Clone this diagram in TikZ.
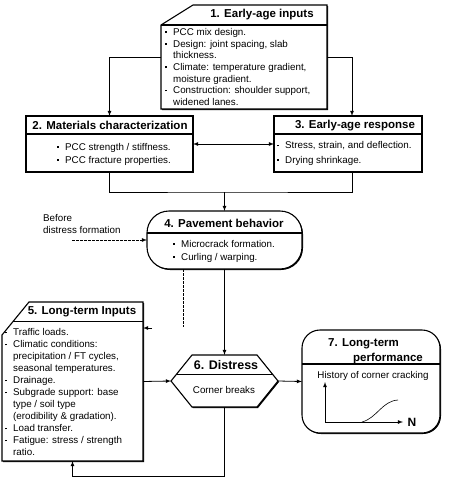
\documentclass[tikz,border=0pt]{standalone}
\usepackage{fontspec}
\setmainfont{Liberation Sans}
\usetikzlibrary{arrows,calc,positioning,shadows}

\newcommand{\bul}{\makebox[8pt][l]{\rule[2.4pt]{1.7pt}{1.7pt}}}
\newcommand{\ind}{\hspace*{8pt}}

\tikzset{
  area/.style={inner sep=0pt,outer sep=0pt},
  outline/.style={draw,line width=1.1pt,fill=white,
    drop shadow={shadow xshift=1pt,shadow yshift=-1pt,fill=black,opacity=1}},
  sep/.style={line width=1.1pt},
  title/.style={font=\fontsize{11.5}{13}\selectfont\bfseries,inner sep=0pt},
  body/.style={font=\fontsize{9.8}{11.7}\selectfont,inner sep=0pt,align=left,anchor=north west},
  link/.style={-latex,line width=.8pt},
  dashline/.style={line width=.8pt,dash pattern=on 2.5pt off 1.5pt},
}

\begin{document}
\begin{tikzpicture}[x=1pt,y=-1pt]
  \useasboundingbox (0,0) rectangle (448,479);

  % box areas
  \node[area,minimum width=166pt,minimum height=104pt] (inp) at (244,57) {};
  \node[area,minimum width=167pt,minimum height=56pt] (mat) at (109.5,144) {};
  \node[area,minimum width=148pt,minimum height=56pt] (ear) at (348,144) {};
  \node[area,minimum width=155pt,minimum height=58pt] (pav) at (224.5,240) {};
  \node[area,minimum width=141pt,minimum height=159pt] (lti) at (72.5,381.5) {};
  \node[area,minimum width=107pt,minimum height=52pt] (dis) at (224.5,381) {};
  \node[area,minimum width=138pt,minimum height=103pt] (ltp) at (371,381.5) {};

  % 1. early-age inputs
  \coordinate (inp-c1) at ($(inp.north west)+(0,20)$);
  \draw[outline] (inp.south west) -- (inp-c1) -- ($(inp.north west)+(32,0)$)
    -- (inp.north east) -- (inp.south east) -- cycle;
  \draw[sep] (inp-c1) -- (inp-c1 -| inp.east);

  % 2. and 3.
  \draw[outline] (mat.south west) rectangle (mat.north east);
  \draw[sep] ($(mat.north west)+(0,18)$) -- ($(mat.north east)+(0,18)$);
  \draw[outline] (ear.south west) rectangle (ear.north east);
  \draw[sep] ($(ear.north west)+(0,18)$) -- ($(ear.north east)+(0,18)$);

  % 4. pavement behavior
  \draw[outline,rounded corners=22pt] (pav.south west) rectangle (pav.north east);
  \draw[sep] ($(pav.north west)+(0,22)$) -- ($(pav.north east)+(0,22)$);

  % 5. long-term inputs
  \coordinate (lti-c1) at ($(lti.north west)+(0,33)$);
  \coordinate (lti-c2) at ($(lti.north west)+(27,0)$);
  \draw[outline] (lti.south west) -- (lti-c1) -- (lti-c2)
    -- (lti.north east) -- (lti.south east) -- cycle;
  \coordinate (lti-s) at ($(lti-c1)!.4!(lti-c2)$);
  \draw[sep] (lti-s) -- (lti-s -| lti.east);

  % 6. distress
  \coordinate (dis-nw) at ($(dis.north west)+(21,0)$);
  \coordinate (dis-ne) at ($(dis.north east)+(-21,0)$);
  \draw[outline] (dis.west) -- (dis-nw) -- (dis-ne) -- (dis.east)
    -- ($(dis.south east)+(-21,0)$) -- ($(dis.south west)+(21,0)$) -- cycle;
  \draw[sep] ($(dis.west)!.26!(dis-nw)$) -- ($(dis.east)!.26!(dis-ne)$);

  % 7. long-term performance
  \draw[outline,rounded corners=18pt] (ltp.south west) rectangle (ltp.north east);
  \draw[sep] ($(ltp.north west)+(0,34)$) -- ($(ltp.north east)+(0,34)$);

  % titles
  \node[title] (inp-t) at (262,15) {1. Early-age inputs};
  \node[title] (mat-t) at (110,125.5) {2. Materials characterization};
  \node[title] (ear-t) at (355,125.5) {3. Early-age response};
  \node[title] (pav-t) at (224,223) {4. Pavement behavior};
  \node[title] (lti-t) at (82,312) {5. Long-term Inputs};
  \node[title,font=\fontsize{12.5}{14}\selectfont\bfseries] (dis-t) at (226,365) {6. Distress};
  \node[title,align=left,anchor=north west,font=\fontsize{11.5}{15}\selectfont\bfseries]
    (ltp-t) at (328,338.5) {7. Long-term\\\hspace*{25pt}performance};

  % texts
  \node[body] (inp-b) at (165,28) {\bul PCC mix design.\\
    \bul Design: joint spacing, slab\\ \ind thickness.\\
    \bul Climate: temperature gradient,\\ \ind moisture gradient.\\
    \bul Construction: shoulder support,\\ \ind widened lanes.};
  \node[body,font=\fontsize{9.8}{13}\selectfont] (mat-b) at (57,143) {\bul PCC strength / stiffness.\\
    \bul PCC fracture properties.};
  \node[body,font=\fontsize{9.8}{14.5}\selectfont] (ear-b) at (277,141.5) {\bul Stress, strain, and deflection.\\
    \bul Drying shrinkage.};
  \node[body,font=\fontsize{9.8}{13}\selectfont] (pav-b) at (173,240) {\bul Microcrack formation.\\
    \bul Curling / warping.};
  \node[body,font=\fontsize{9.8}{12}\selectfont] (lti-b) at (5,328.5) {\bul Traffic loads.\\
    \bul Climatic conditions:\\ \ind precipitation / FT cycles,\\ \ind seasonal temperatures.\\
    \bul Drainage.\\
    \bul Subgrade support: base\\ \ind type / soil type\\ \ind (erodibility \& gradation).\\
    \bul Load transfer.\\
    \bul Fatigue: stress / strength\\ \ind ratio.};
  \node[font=\fontsize{9.8}{12}\selectfont,inner sep=0pt] (dis-b) at (224,389.5) {Corner breaks};
  \node[font=\fontsize{9.8}{12}\selectfont,inner sep=0pt] (ltp-b) at (373,375.5) {History of corner cracking};
  \node[body,font=\fontsize{9.8}{12}\selectfont] (bdf) at (43,214) {Before\\distress formation};

  % connectors
  \draw[link] (inp.west) -| (mat.north);
  \draw[link] (inp.east) -| ($(ear.north)+(4,0)$);
  \draw[latex-latex,line width=.8pt] (mat.east) -- (ear.west);
  \coordinate (mrg) at (224.5,192);
  \draw[line width=.8pt] (mat.south) |- (mrg) -| ($(ear.south)+(4,0)$);
  \draw[link] (mrg) -- (pav.north);
  \coordinate (dstart) at (72,240);
  \draw[link,dashline] (dstart) -- (pav.west);
  \coordinate (dtop) at ($(pav.south west)+(36,0)$);
  \coordinate (dend) at (183,327);
  \draw[dashline] (dtop) -- (dend);
  \coordinate (tip) at (152,328);
  \draw[link] (tip) -- (tip -| lti.east);
  \draw[link] (pav.south) -- (dis.north);
  \draw[link] (lti.east) -- (dis.west);
  \draw[link] (dis.east) -- (ltp.west);
  \draw[link] (dis.south) -- ++(0,69) -| (lti.south);

  % chart
  \coordinate (org) at (325,422);
  \draw[link] (org) -- (325,382);
  \draw[link] (org) -- (403,422);
  \node[title,font=\fontsize{12}{14}\selectfont\bfseries] (nax) at (412,422) {N};
  \draw[line width=.6pt] (362,422) .. controls (377,418) and (382,401) .. (398,400);
\end{tikzpicture}
\end{document}
